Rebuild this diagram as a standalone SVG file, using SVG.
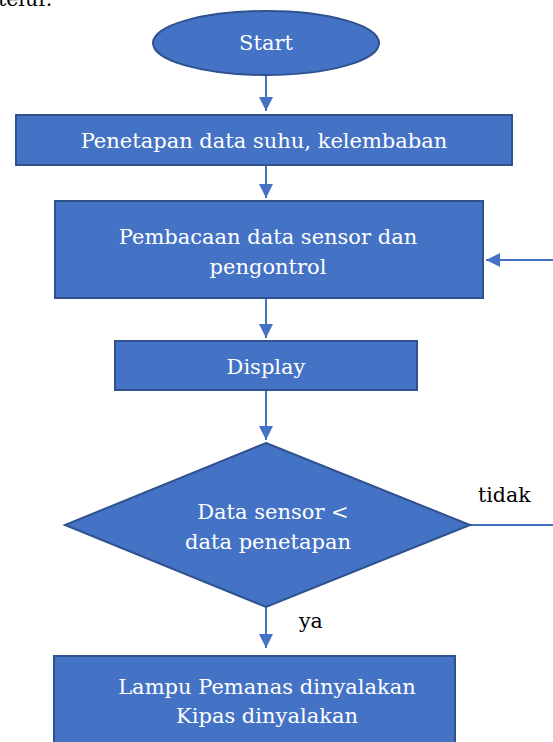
<svg xmlns="http://www.w3.org/2000/svg" width="553" height="742" viewBox="0 0 553 742">
<style>
.n{fill:#4472C4;stroke:#2F528F;stroke-width:2}
.t{font-family:"DejaVu Serif","Liberation Serif",serif;font-size:21px;fill:#ffffff;text-anchor:middle}
.l{font-family:"DejaVu Serif","Liberation Serif",serif;font-size:20.5px;fill:#000000}
.c{stroke:#4472C4;stroke-width:2;fill:none}
</style>
<defs>
<marker id="b" viewBox="0 0 10 10" refX="10" refY="5" markerWidth="14" markerHeight="14" markerUnits="userSpaceOnUse" orient="auto">
<path d="M0,0 L10,5 L0,10 z" fill="#4472C4"/>
</marker>
</defs>
<text class="l" x="-2" y="6">telur.</text>
<g id="connectors">
<line class="c" x1="266" y1="75" x2="266" y2="111" marker-end="url(#b)"/>
<line class="c" x1="266" y1="165" x2="266" y2="198" marker-end="url(#b)"/>
<line class="c" x1="553" y1="260" x2="486" y2="260" marker-end="url(#b)"/>
<line class="c" x1="266" y1="298" x2="266" y2="338" marker-end="url(#b)"/>
<line class="c" x1="266" y1="390" x2="266" y2="440" marker-end="url(#b)"/>
<line class="c" x1="470" y1="525" x2="553" y2="525"/>
<line class="c" x1="266" y1="607" x2="266" y2="648" marker-end="url(#b)"/>
</g>
<g id="start">
<ellipse class="n" cx="266" cy="43" rx="113" ry="32"/>
<text class="t" x="266" y="50">Start</text>
</g>
<g id="penetapan">
<rect class="n" x="16" y="115" width="496" height="50"/>
<text class="t" x="264" y="148">Penetapan data suhu, kelembaban</text>
</g>
<g id="pembacaan">
<rect class="n" x="55" y="201" width="428" height="97"/>
<text class="t" x="268" y="244">Pembacaan data sensor dan</text>
<text class="t" x="268" y="274">pengontrol</text>
</g>
<g id="display">
<rect class="n" x="115" y="341" width="302" height="49"/>
<text class="t" x="266" y="374">Display</text>
</g>
<g id="decision">
<polygon class="n" points="266,443 470,525 266,607 65,525"/>
<text class="t" x="273" y="519">Data sensor &lt;</text>
<text class="t" x="268" y="549">data penetapan</text>
</g>
<text class="l" x="478" y="502">tidak</text>
<text class="l" x="299" y="628">ya</text>
<g id="lampu">
<rect class="n" x="54" y="656" width="401" height="100"/>
<text class="t" x="267" y="694">Lampu Pemanas dinyalakan</text>
<text class="t" x="267" y="723">Kipas dinyalakan</text>
</g>
</svg>
